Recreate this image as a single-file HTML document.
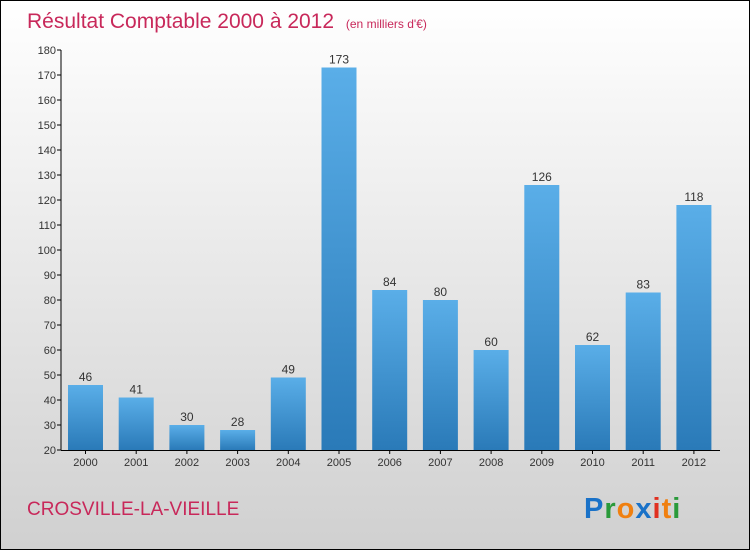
<!DOCTYPE html>
<html><head><meta charset="utf-8"><style>
body{margin:0;width:750px;height:550px;overflow:hidden;font-family:"Liberation Sans",sans-serif}
</style></head><body>
<svg id="c" width="750" height="550" xmlns="http://www.w3.org/2000/svg">
<defs>
<linearGradient id="bg" x1="0" y1="0" x2="0" y2="1"><stop offset="0" stop-color="#ffffff"/><stop offset="1" stop-color="#d0d0d0"/></linearGradient>
<linearGradient id="bar" x1="0" y1="0" x2="0" y2="1"><stop offset="0" stop-color="#5aaee8"/><stop offset="1" stop-color="#2a7ab8"/></linearGradient>
</defs>
<rect x="0.5" y="0.5" width="749" height="549" fill="url(#bg)" stroke="#000"/>
<text x="27" y="28" font-size="21" fill="#c8285a">Résultat Comptable 2000 à 2012 <tspan font-size="12" dx="6">(en milliers d'€)</tspan></text>
<text x="27" y="515" font-size="19" fill="#c8285a">CROSVILLE-LA-VIEILLE</text>
<g id="logo" font-size="29" font-weight="bold" letter-spacing="1">
<text x="584" y="518"><tspan fill="#1a72c8">P</tspan><tspan fill="#2a9a3a">r</tspan><tspan fill="#f08010">o</tspan><tspan fill="#1a72c8">x</tspan><tspan fill="#e03020">i</tspan><tspan fill="#f08010">t</tspan><tspan fill="#2a9a3a">i</tspan></text>
</g>
<g id="plot"></g>
</svg>
<script>
const years=["2000","2001","2002","2003","2004","2005","2006","2007","2008","2009","2010","2011","2012"];
const values=[46,41,30,28,49,173,84,80,60,126,62,83,118];
const yTicks=[20,30,40,50,60,70,80,90,100,110,120,130,140,150,160,170,180];
const NS="http://www.w3.org/2000/svg";
const g=document.getElementById('plot');
const yMin=20,yMax=180,pTop=50,pBot=450;
const y=v=>pBot-(v-yMin)/(yMax-yMin)*(pBot-pTop);
const x=i=>85.5+i*50.7;
function mk(t,a){const e=document.createElementNS(NS,t);for(const k in a)e.setAttribute(k,a[k]);g.appendChild(e);return e;}
let ax=mk('line',{x1:61,y1:pTop,x2:61,y2:pBot,stroke:'#000'});


let xa=mk('line',{x1:61,y1:pBot+0.5,x2:720,y2:pBot+0.5,stroke:'#000'});


yTicks.forEach(t=>{
 const tk=mk('line',{x1:57,y1:y(t),x2:61,y2:y(t),stroke:'#000'});
 
 
 const l=mk('text',{x:56,y:y(t)+4,'font-size':11,'text-anchor':'end',fill:'#333'});
 l.textContent=t;
 
 
});
values.forEach((v,i)=>{
 const b=mk('rect',{x:x(i)-17.5,y:y(v),width:35,height:pBot-y(v),fill:'url(#bar)'});
 
 
 const vl=mk('text',{x:x(i),y:y(v)-4,'font-size':12,'text-anchor':'middle',fill:'#333'});
 vl.textContent=v;
 
 
 const tk=mk('line',{x1:x(i),y1:pBot,x2:x(i),y2:pBot+4,stroke:'#000'});
 
 
 const xl=mk('text',{x:x(i),y:pBot+16,'font-size':11,'text-anchor':'middle',fill:'#333'});
 xl.textContent=years[i];
 
 
});
</script>
</body></html>
